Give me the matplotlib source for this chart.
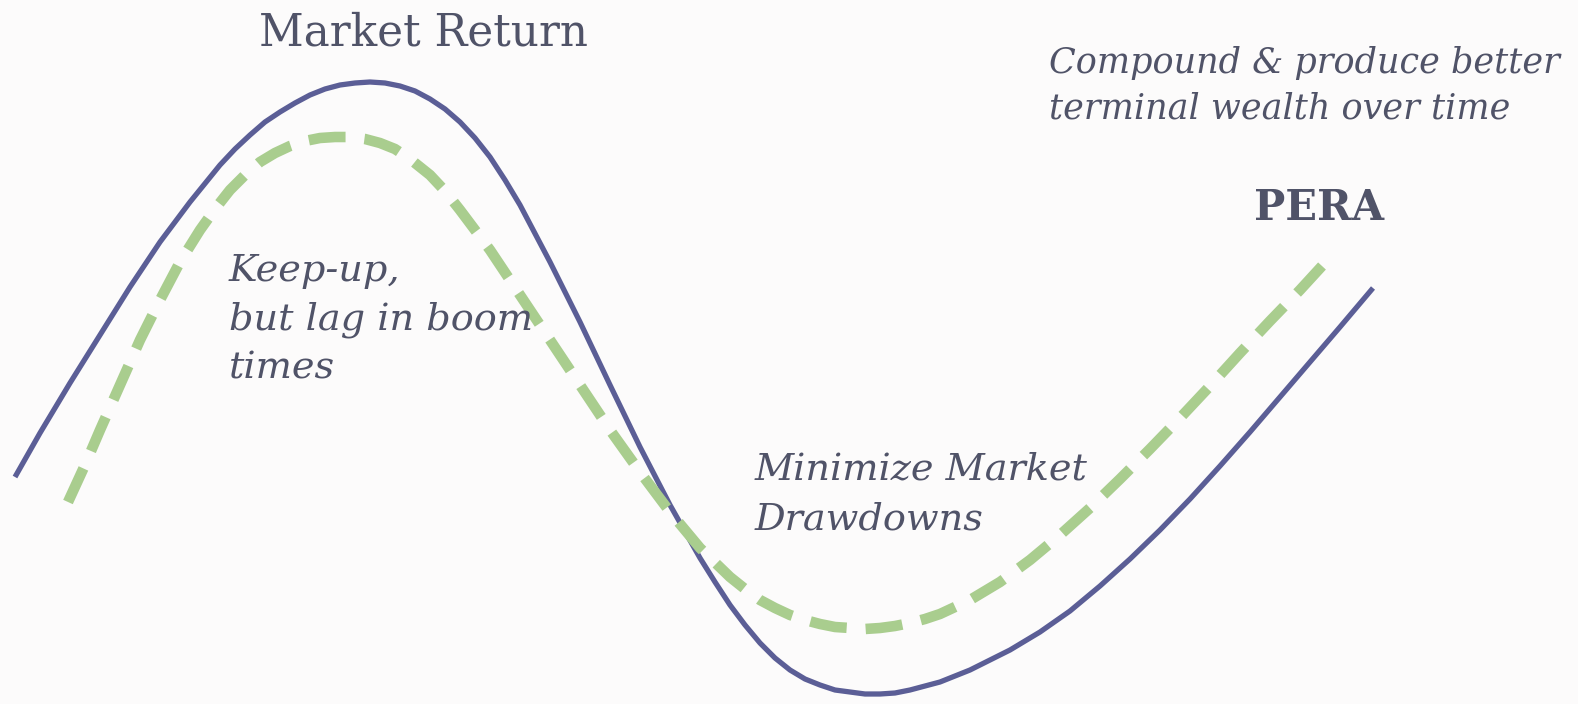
import matplotlib
matplotlib.use("Agg")
import matplotlib.pyplot as plt

# values (x across, y down from the top edge)
market_x = [15, 40, 70, 100, 130, 160, 190, 220, 235, 250, 265, 280, 295, 310,
            325, 340, 355, 370, 385, 400, 415, 430, 445, 460, 475, 490, 505,
            520, 550, 580, 610, 640, 670, 700, 715, 730, 745, 760, 775, 790,
            805, 820, 835, 850, 865, 880, 895, 910, 925, 940, 955, 970, 990,
            1010, 1040, 1070, 1100, 1130, 1160, 1190, 1220, 1250, 1280, 1310,
            1340, 1373]
market_y = [477, 433, 383, 335, 287, 242, 202, 165, 149, 135, 122, 112, 103, 95,
            89, 85, 83, 82, 83, 86, 91, 99, 109, 122, 138, 157, 180,
            205, 262, 322, 385, 447, 505, 558, 582, 605, 625, 643, 658, 670,
            679, 685, 690, 692, 694, 694, 693, 690, 686, 682, 676, 670, 660,
            650, 632, 611, 586, 559, 530, 499, 466, 432, 397, 362,
            327, 288]

pera_x = [68, 85, 100, 120, 140, 160, 180, 200, 215, 230, 245, 260, 275, 290,
          305, 320, 335, 350, 365, 380, 395, 410, 430, 445, 460, 490, 520,
          550, 580, 610, 640, 670, 700, 730, 745, 760, 775, 790, 805, 820,
          835, 850, 865, 880, 895, 910, 925, 940, 955, 970, 985, 1000, 1030,
          1060, 1090, 1120, 1150, 1180, 1210, 1240, 1270, 1300, 1322]
pera_y = [502, 465, 430, 385, 340, 300, 262, 230, 209, 190, 175, 162, 153, 146,
          141, 138, 137, 137, 139, 143, 149, 159, 175, 191, 210, 250, 295,
          340, 385, 430, 472, 512, 548, 577, 589, 600, 608, 615, 620, 624,
          627, 628, 629, 628, 626, 623, 619, 614, 607, 600, 591, 582, 560,
          535, 508, 479, 449, 418, 386, 353, 321, 290, 266]

navy = "#5b5e96"
green = "#a9cd8e"
ink = "#505368"
bg = "#fcfbfb"

plt.rcParams["font.family"] = ["DejaVu Serif"]

fig = plt.figure(figsize=(15.78, 7.04), dpi=100, facecolor=bg)
ax = fig.add_axes([0, 0, 1, 1])
ax.set_facecolor(bg)

ax.plot(market_x, market_y, color=navy, lw=3.8, solid_capstyle="butt",
        solid_joinstyle="round")
ax.plot(pera_x, pera_y, color=green, lw=7.6, dashes=(3.5, 1.8),
        dash_capstyle="butt", dash_joinstyle="round")

ax.text(424, 33, "Market Return", fontsize=31.5, color=ink, ha="center", va="center")
ax.text(1319, 208, "PERA", fontsize=30, color=ink, ha="center", va="center",
        fontweight="bold")
ax.text(1049, 86, "Compound & produce better\nterminal wealth over time",
        fontsize=25.2, color=ink, style="italic", ha="left", va="center",
        linespacing=1.42)
ax.text(229, 320, "Keep-up,\nbut lag in boom\ntimes", fontsize=27.5, color=ink,
        style="italic", ha="left", va="center", linespacing=1.45)
ax.text(755, 494, "Minimize Market\nDrawdowns", fontsize=27.5, color=ink,
        style="italic", ha="left", va="center", linespacing=1.5)

ax.set_xlim(0, 1578)
ax.set_ylim(704, 0)
ax.axis("off")

fig.savefig("out.png", dpi=100, facecolor=bg)
